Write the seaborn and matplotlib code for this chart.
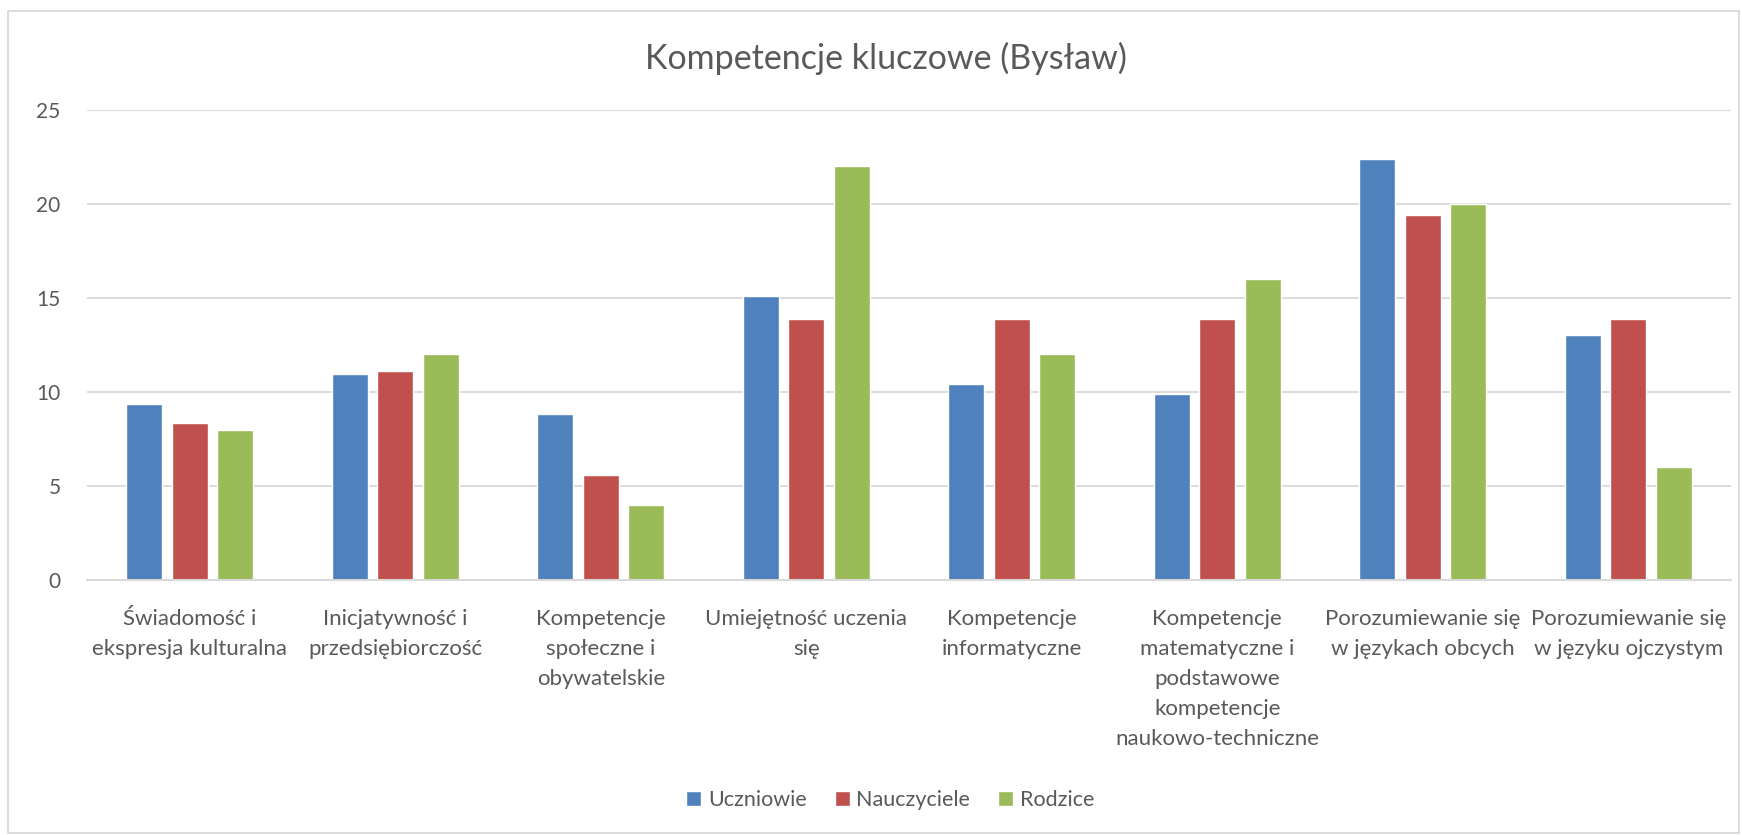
import pandas as pd
import matplotlib
matplotlib.use("Agg")
import matplotlib.pyplot as plt
import seaborn as sns
from matplotlib.patches import Rectangle

# categories and series
categories = [
    "Świadomość i\nekspresja kulturalna",
    "Inicjatywność i\nprzedsiębiorczość",
    "Kompetencje\nspołeczne i\nobywatelskie",
    "Umiejętność uczenia\nsię",
    "Kompetencje\ninformatyczne",
    "Kompetencje\nmatematyczne i\npodstawowe\nkompetencje\nnaukowo-techniczne",
    "Porozumiewanie się\nw językach obcych",
    "Porozumiewanie się\nw języku ojczystym",
]
series_names = ["Uczniowie", "Nauczyciele", "Rodzice"]
uczniowie = [9.38, 10.94, 8.85, 15.10, 10.42, 9.90, 22.40, 13.02]
nauczyciele = [8.33, 11.11, 5.56, 13.89, 13.89, 13.89, 19.44, 13.89]
rodzice = [8.0, 12.0, 4.0, 22.0, 12.0, 16.0, 20.0, 6.0]
colors = ["#4F81BD", "#C0504D", "#9BBB59"]

df = pd.DataFrame({
    "kategoria": categories * 3,
    "grupa": [series_names[0]] * 8 + [series_names[1]] * 8 + [series_names[2]] * 8,
    "wartosc": uczniowie + nauczyciele + rodzice,
})

sns.set_style("white")
plt.rcParams["font.family"] = ["Lato", "DejaVu Sans"]
text_color = "#595959"

fig = plt.figure(figsize=(17.42, 8.35), dpi=100)
ax = fig.add_axes([87 / 1742, 1 - 580 / 835, (1731 - 87) / 1742, 470 / 835])

sns.barplot(data=df, x="kategoria", y="wartosc", hue="grupa", order=categories,
            hue_order=series_names, palette=colors, width=0.664, gap=0.21,
            saturation=1, ax=ax)

ax.set_ylim(0, 25)
ax.set_xlim(-0.5, len(categories) - 0.5)
ax.set_yticks([0, 5, 10, 15, 20, 25])
ax.yaxis.grid(True, color="#d9d9d9", linewidth=1.3)
ax.set_axisbelow(True)
for side in ["top", "right", "left"]:
    ax.spines[side].set_visible(False)
ax.spines["bottom"].set_color("#d9d9d9")
ax.spines["bottom"].set_linewidth(1.5)
ax.set_xlabel("")
ax.set_ylabel("")
ax.tick_params(axis="both", length=0, labelcolor=text_color)
ax.tick_params(axis="y", pad=19, labelsize=15)
ax.tick_params(axis="x", pad=21, labelsize=16)
for lbl in ax.get_xticklabels():
    lbl.set_linespacing(1.63)

handles, labels = ax.get_legend_handles_labels()
ax.get_legend().remove()
fig.legend(handles, labels, loc="center", bbox_to_anchor=(0.511, 1 - 800 / 835),
           ncol=3, frameon=False, fontsize=15.5, labelcolor=text_color,
           handlelength=0.7, handleheight=0.7, handletextpad=0.3,
           columnspacing=1.3)

fig.text(0.5086, 1 - 58 / 835, "Kompetencje kluczowe (Bysław)", ha="center",
         va="center", fontsize=24.5, color=text_color)

fig.patches.append(Rectangle((8 / 1742, 2 / 835), 1731 / 1742, 822 / 835,
                             transform=fig.transFigure, fill=False,
                             edgecolor="#d9d9d9", linewidth=1.3))

fig.savefig("out.png", dpi=100)
